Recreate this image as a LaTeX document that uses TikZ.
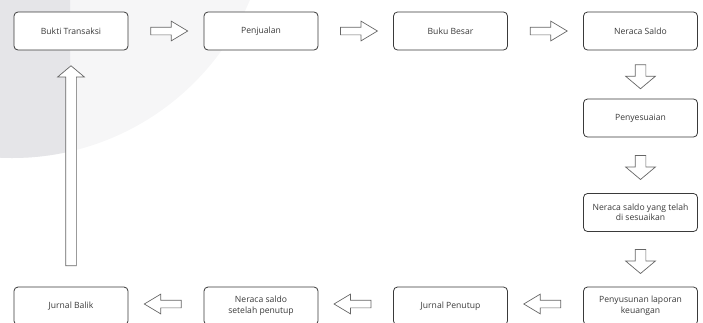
\documentclass[tikz,border=0pt]{standalone}
\usepackage{fontspec}
\setmainfont{Open Sans}
\usetikzlibrary{shapes.arrows,calc}
\definecolor{bgdark}{HTML}{E5E5E8}
\definecolor{bglight}{HTML}{F6F6F7}
\definecolor{inkgray}{HTML}{3A3A3A}
\begin{document}
\begin{tikzpicture}[x=1pt, y=-1pt,
    every node/.style={font=\fontsize{8.6}{10.5}\selectfont, text=inkgray},
    stepbox/.style={draw=inkgray, line width=0.8pt, rounded corners=4pt, fill=white,
        minimum width=114pt, minimum height=38pt, inner sep=0pt, align=center},
    hblock/.style={single arrow, draw=gray!80!black, line width=0.7pt, fill=white,
        inner sep=0pt, inner ysep=3.5pt, single arrow head extend=6pt,
        single arrow tip angle=62, minimum height=37pt},
    vblock/.style={single arrow, draw=gray!80!black, line width=0.7pt, fill=white,
        inner sep=0pt, inner ysep=5pt, single arrow head extend=9.5pt,
        single arrow tip angle=100, minimum height=#1},
    vblock/.default=24pt]
    \useasboundingbox (0,0) rectangle (703,322);
    \clip (0,0) rectangle (703,322);
    % latar belakang
    \fill[bglight] (12,-100) circle (258);
    \begin{scope}
        \clip (0,0) rectangle (70,322);
        \fill[bgdark] (12,-100) circle (258);
    \end{scope}
    % baris atas
    \node[stepbox] (bukti)     at (71,31)    {Bukti Transaksi};
    \node[stepbox] (penjualan) at (261,31)   {Penjualan};
    \node[stepbox] (bukubesar) at (450.5,31) {Buku Besar};
    \node[stepbox] (neraca)    at (640.5,31) {Neraca Saldo};
    % kolom kanan
    \node[stepbox] (penyesuaian) at (640.5,118)   {Penyesuaian};
    \node[stepbox] (nsdisesuai)  at (640.5,212.5) {Neraca saldo yang telah\\di sesuaikan};
    % baris bawah
    \node[stepbox] (laporan)    at (640.5,306) {Penyusunan laporan\\keuangan};
    \node[stepbox] (penutup)    at (450.5,306) {Jurnal Penutup};
    \node[stepbox] (nspenutup)  at (261,306)   {Neraca saldo\\setelah penutup};
    \node[stepbox] (balik)      at (71,306)    {Jurnal Balik};
    % panah ke kanan
    \node[hblock] (a1) at ($(bukti.east)!0.5!(penjualan.west)$) {};
    \node[hblock] (a2) at ($(penjualan.east)!0.5!(bukubesar.west)$) {};
    \node[hblock] (a3) at ($(bukubesar.east)!0.5!(neraca.west)$) {};
    % panah ke bawah
    \node[vblock, rotate=-90] (a4) at ($(neraca.south)!0.5!(penyesuaian.north)$) {};
    \node[vblock, rotate=-90] (a5) at ($(penyesuaian.south)!0.5!(nsdisesuai.north)$) {};
    \node[vblock, rotate=-90] (a6) at ($(nsdisesuai.south)!0.5!(laporan.north)$) {};
    % panah ke kiri
    \node[hblock, rotate=180] (a7) at ($(laporan.west)!0.5!(penutup.east)+(0,-2)$) {};
    \node[hblock, rotate=180] (a8) at ($(penutup.west)!0.5!(nspenutup.east)+(0,-2)$) {};
    \node[hblock, rotate=180] (a9) at ($(nspenutup.west)!0.5!(balik.east)+(0,-2)$) {};
    % panah kembali ke atas
    \node[vblock=200pt, rotate=90, single arrow head extend=8pt] (a10) at (71,168) {};
\end{tikzpicture}
\end{document}
